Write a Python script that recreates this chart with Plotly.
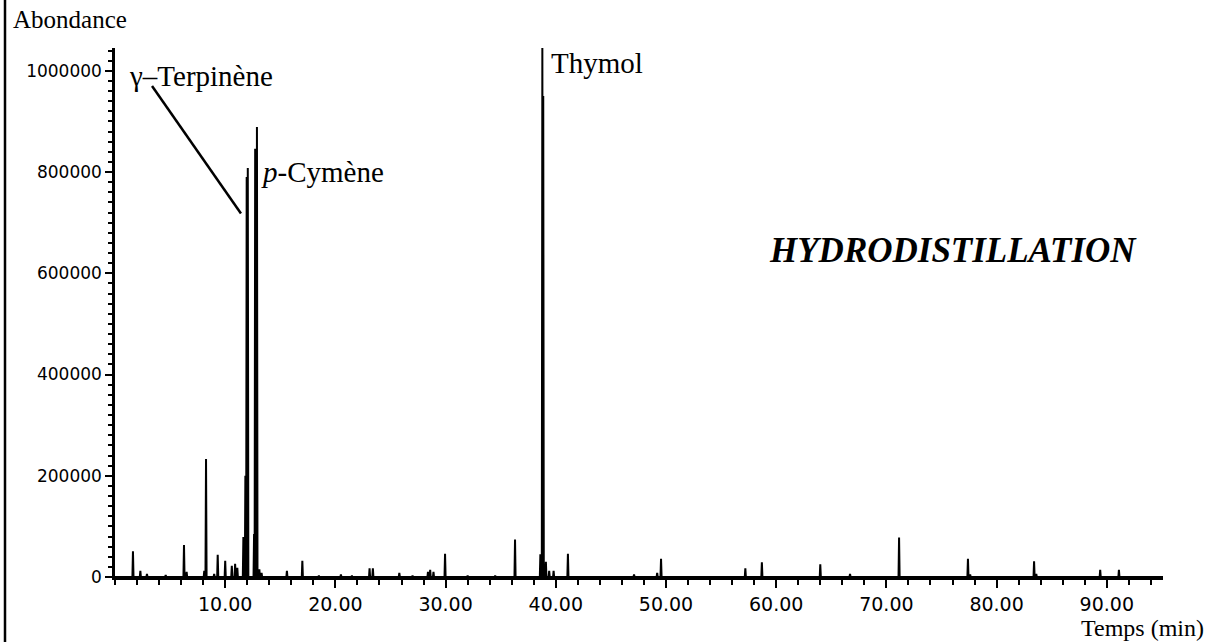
import plotly.graph_objects as go

# Chromatogram peaks: retention time (min) and abundance
rt_min = [1.63, 2.3, 2.9, 4.6, 6.26, 6.5, 8.1, 8.26, 9.0, 9.32, 10.0, 10.6, 10.9,
          11.1, 11.65, 11.83, 11.95, 12.05, 12.62, 12.72, 12.88, 13.1, 13.3, 15.6,
          17.0, 18.5, 20.5, 21.5, 23.1, 23.4, 25.8, 27.0, 28.4, 28.6, 28.9, 29.95,
          32.0, 34.5, 36.3, 38.6, 38.78, 38.86, 39.1, 39.4, 39.8, 41.1, 47.1, 49.2,
          49.55, 57.2, 58.7, 64.0, 66.7, 71.15, 77.4, 77.6, 83.4, 83.6, 89.4, 91.1]
abundance = [51000, 12000, 6000, 4000, 63000, 10000, 12000, 233000, 6000, 44000, 32000,
             22000, 26000, 18000, 79000, 200000, 790000, 808000, 85000, 846000, 889000,
             15000, 8000, 12000, 32000, 3000, 5000, 3000, 17000, 17000, 8000, 3000,
             10000, 14000, 10000, 46000, 3000, 3000, 74000, 45000, 1045000, 950000,
             30000, 12000, 12000, 46000, 5000, 8000, 36000, 17000, 29000, 25000, 6000,
             78000, 36000, 5000, 31000, 6000, 14000, 14000]

x_tick_vals = [10, 20, 30, 40, 50, 60, 70, 80, 90]
x_tick_text = ["10.00", "20.00", "30.00", "40.00", "50.00", "60.00", "70.00", "80.00", "90.00"]
y_tick_vals = [0, 200000, 400000, 600000, 800000, 1000000]
y_tick_text = ["0", "200000", "400000", "600000", "800000", "1000000"]

# Build a spike signal from the peak list
half_width = 0.05
pairs = sorted(zip(rt_min, abundance))
sig_x, sig_y = [0.0], [0.0]
for t, h in pairs:
    sig_x += [t - half_width, t, t + half_width]
    sig_y += [0, h, 0]
sig_x.append(95.1)
sig_y.append(0)

fig = go.Figure()
fig.add_trace(go.Scatter(x=sig_x, y=sig_y, mode="lines",
                         line=dict(color="black", width=2), hoverinfo="skip",
                         showlegend=False))

# plot-area pixel helpers for free-floating text
L, R, T, B = 115, 46, 48, 65
W, H = 1209, 642
pw, ph = W - L - R, H - T - B


def px(x):
    return (x - L) / pw


def py(y):
    return (H - B - y) / ph


serif = "Liberation Serif, Times New Roman, serif"
annotations = [
    dict(x=px(11), y=py(20), xref="paper", yref="paper", text="Abondance",
         xanchor="left", yanchor="middle", showarrow=False,
         font=dict(family=serif, size=25, color="black")),
    dict(x=px(1206), y=py(628), xref="paper", yref="paper", text="Temps (min)",
         xanchor="right", yanchor="middle", showarrow=False,
         font=dict(family=serif, size=24, color="black")),
    dict(x=1.05, y=990000, text="γ–Terpinène", xanchor="left", yanchor="middle",
         showarrow=False, font=dict(family=serif, size=29, color="black")),
    dict(x=13.1, y=800000, text="<i>p</i>-Cymène", xanchor="left", yanchor="middle",
         showarrow=False, font=dict(family=serif, size=29, color="black")),
    dict(x=39.4, y=1016000, text="Thymol", xanchor="left", yanchor="middle",
         showarrow=False, font=dict(family=serif, size=29, color="black")),
    dict(x=px(767), y=py(250), xref="paper", yref="paper",
         text="<b><i>HYDRODISTILLATION</i></b>", xanchor="left", yanchor="middle",
         showarrow=False, font=dict(family=serif, size=35, color="black")),
]

shapes = [
    # leader line from the γ-terpinene label to its peak
    dict(type="line", x0=3.36, y0=970000, x1=11.43, y1=718000,
         line=dict(color="black", width=2.5)),
    # frame line on the left edge
    dict(type="line", xref="paper", yref="paper", x0=px(5), x1=px(5), y0=py(0), y1=py(642),
         line=dict(color="black", width=2.5)),
]

tick_font = dict(family="DejaVu Sans, Verdana, sans-serif", color="black")

fig.update_layout(
    width=W, height=H,
    margin=dict(l=L, r=R, t=T, b=B),
    paper_bgcolor="white", plot_bgcolor="white",
    annotations=annotations, shapes=shapes,
    xaxis=dict(range=[0, 95.1], showgrid=False, zeroline=False,
               showline=True, linecolor="black", linewidth=3,
               tickmode="array", tickvals=x_tick_vals, ticktext=x_tick_text,
               ticks="outside", ticklen=8, tickwidth=2, tickcolor="black",
               tickfont=dict(size=19, **tick_font),
               minor=dict(tickmode="linear", tick0=0, dtick=2, ticks="outside",
                          ticklen=5, tickwidth=2, tickcolor="black")),
    yaxis=dict(range=[0, 1045000], showgrid=False, zeroline=False,
               showline=True, linecolor="black", linewidth=2.5,
               tickmode="array", tickvals=y_tick_vals, ticktext=y_tick_text,
               ticks="outside", ticklen=7, tickwidth=2, tickcolor="black",
               tickfont=dict(size=17, **tick_font),
               minor=dict(tickmode="linear", tick0=0, dtick=20000, ticks="outside",
                          ticklen=4, tickwidth=2, tickcolor="black")),
)

fig.write_html("out.html")
